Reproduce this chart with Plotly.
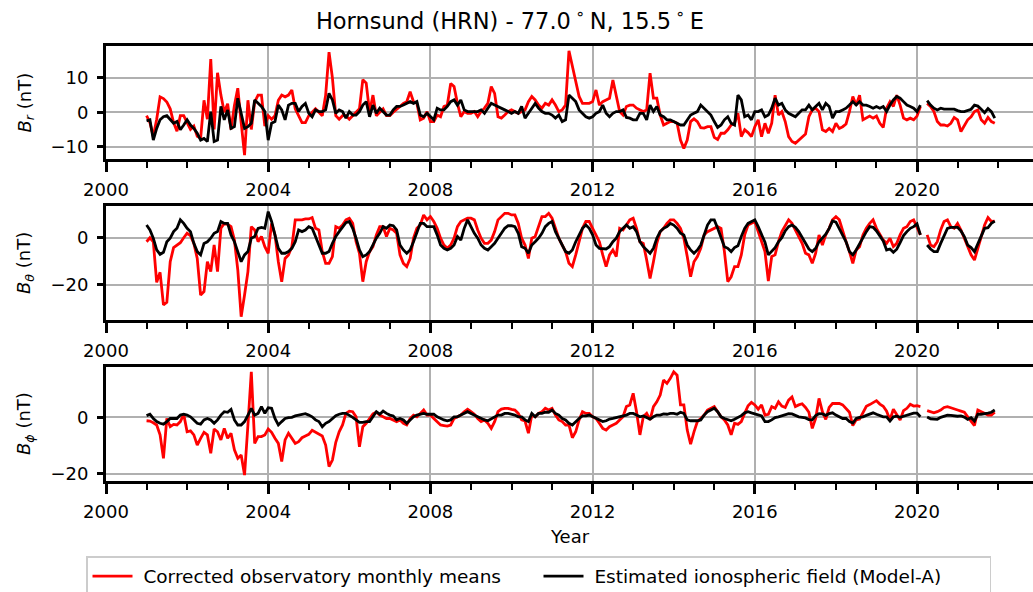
import plotly.graph_objects as go

# ---------------- data (monthly values, Jan 2001 .. Dec 2021; None = missing month) ----------------
START_YEAR = 2001

# B_r : corrected observatory monthly means (nT), one row per year
BR_OBS = [
    [-1, -3, -7, -2, 4.5, 4, 3, 1, -3, -5.5, -1, -1],
    [-3, -5, -4, -7, -7.5, 3.5, -2, 15.5, -5, 11.5, 5, 0],
    [2.5, -5, 2, 7, -3, -12.5, 3.5, -5, 3, 5, 5, -4],
    [-1, -2, -1, 3.5, 5, 4.5, 5, 6.5, 1, -1, -3, -3],
    [-1, 0, 1, 0, -1, 5, 17.5, 10, -1, -2, -1, -1],
    [-2, -1, 0, 1, 9.5, 8.5, 0, 5, -1, 0, 1, -1],
    [-1, 0, 1, 1.7, 2.6, 3.1, 6.0, 3.1, 2.6, -2.2, -1.7, 0.2],
    [-2.7, -2.7, -0.8, -1.3, 1.7, 2.1, 8.4, 7.5, 2.6, -1.3, 0.2, -0.3],
    [-0.3, 0.2, -1.3, 0.2, 1.2, 2.6, 7.5, 5.5, -1.3, -1.7, -0.8, 0.2],
    [0.7, 0.2, -0.3, 0.2, 0.7, 3.1, 4.6, 3.6, 2.1, 1.2, 2.6, 2.1],
    [3.6, 2.1, 0.2, 0.7, 2.1, 17.9, 13.3, 8.4, 4.6, 2.6, 2.6, 2.6],
    [3.1, 6.5, 2.1, 3.1, 3.6, 4.1, 9.4, 4.6, 0.2, -0.8, 1.7, 2.1],
    [2.1, 1.2, 0.7, 0.2, 0.7, 11.4, 4.1, 4.1, -0.8, -3.7, -3.2, -2.7],
    [-2.7, -3.2, -8.1, -10.5, -8.1, -2.7, -1.9, -2.7, -4.5, -4.6, -4.2, -4.2],
    [-7.3, -7.9, -6.1, -6.1, -5.1, -3.7, -3.2, -0.3, -7.1, -5.1, -5.9, -7.1],
    [-4.2, -2.2, -7.1, -3.2, -6.1, -3.2, 5.0, -0.8, 0.2, -2.7, -7.1, -8.5],
    [-9.0, -8.1, -7.1, -6.3, -1.3, 0.7, 1.2, 0.2, -5.1, -5.6, -4.7, -5.6],
    [-3.2, -4.7, -4.2, -3.4, 0.2, 4.6, 2.1, 5.0, -2.2, -1.7, -1.1, -1.7],
    [-1.1, -3.2, -4.4, 1.2, 3.1, 1.7, 5.0, 2.1, -1.7, -2.2, -1.7, -2.2],
    [-1.1, 1.7, None, 2.6, 1.7, 0.2, -2.7, -3.7, -3.7, -4.0, -3.2, -1.5],
    [-2.2, -5.6, -3.7, -2.2, -1.3, 0.2, 0.7, -2.2, -3.2, -1.5, -2.7, -3.2],
]

# B_r : estimated ionospheric field (Model-A)
BR_MOD = [
    [-2.5, -2.2, -8.1, -4.7, -2.2, -1.3, -1.0, -2.2, -3.2, -2.7, -5.1, -3.7],
    [-2.2, -3.7, -4.7, -6.1, -8.1, -7.6, -8.5, 0.2, -8.5, -8.1, 1.7, -2.2],
    [0.7, -4.7, -4.2, 4.1, -0.3, -4.7, -4.2, -3.2, 3.6, 2.6, 1.7, 0.2],
    [-8.1, -3.2, -2.7, 2.1, 0.7, -2.2, 2.1, 2.6, 2.6, 0.2, 1.7, 2.6],
    [-0.3, -1.3, 0.7, 0.2, 0.2, 0.7, 5.5, 3.6, -0.3, 0.7, 0.2, -1.7],
    [0.2, -0.8, -0.8, 0.2, 2.1, 3.1, -1.3, 2.1, -0.3, 1.2, 0.2, -0.8],
    [-0.8, 0.7, 1.7, 1.7, 2.1, 2.6, 3.1, 2.6, 3.1, -0.8, -1.3, -0.3],
    [-1.3, -2.2, 1.2, 0.7, 0.7, 1.7, 3.1, 3.6, 2.1, 3.6, 0.7, 0.2],
    [0.2, 0.2, 0.2, 0.7, -0.3, 1.2, 2.6, 2.1, 1.7, 1.2, 0.7, 0.2],
    [-0.3, 0.2, -0.3, 1.7, -1.7, -0.3, 1.2, 2.6, 1.2, 0.2, -0.3, -0.3],
    [-0.8, -1.7, -0.8, -2.7, -2.2, 5.0, 4.1, 3.1, 0.7, -0.3, -1.3, -1.7],
    [-1.3, -0.3, 0.2, 2.1, -0.3, -1.3, -0.3, 0.2, 0.2, 0.7, -1.5, -1.7],
    [-2.2, -2.2, -0.3, -0.3, -2.2, 2.1, 0.2, 1.7, -0.8, -1.3, -2.2, -2.2],
    [-2.7, -3.2, -3.7, -3.7, -2.2, -0.8, -0.3, 0.2, 2.1, 1.2, 0.2, -0.8],
    [-2.7, -4.4, -3.7, -2.2, -1.3, -3.2, -3.7, 5.0, 3.6, -1.3, -0.8, -2.2],
    [0.2, 0.2, 0.7, -1.3, -0.8, 1.2, 4.1, 2.1, 2.6, 0.7, -0.3, -0.8],
    [-1.3, -0.3, 0.7, 0.7, 2.1, 0.7, 1.7, 2.6, 0.7, 2.6, 1.7, -1.7],
    [0.2, 0.2, 0.7, 1.2, 2.1, 3.1, 2.1, 3.1, 2.1, 2.1, 1.7, 1.2],
    [1.7, 1.2, 1.7, 0.2, 2.1, 3.6, 4.6, 4.1, 3.1, 2.1, 1.7, 1.2],
    [0.2, 2.1, None, 3.4, 2.1, 1.2, 0.7, 1.2, 0.9, 0.9, 1.0, 0.9],
    [0.5, 0.2, 0.2, 0.5, 0.9, 2.1, 1.8, 0.9, -0.1, 1.1, 0.2, -1.7],
]

# B_theta : corrected observatory monthly means
BT_OBS = [
    [-1.6, 0.1, -1.6, -18.9, -14.6, -28.5, -27.4, -10.1, -4.1, -3.0, -2.0, 0.1],
    [2.0, 1.0, -2.3, -8.7, -24.3, -22.8, -10.1, -14.3, -3.0, -14.3, 4.1, 6.2],
    [5.8, 4.8, -0.9, -13.6, -33.5, -24.3, -14.3, 4.8, 3.4, -1.6, 0.6, -3.7],
    [-6.5, 6.2, 1.3, -10.1, -18.6, -8.7, -7.2, -3.7, 7.7, 7.7, 7.7, 8.1],
    [8.1, 8.7, 4.1, 3.4, -5.8, -10.8, -10.8, -7.9, 4.8, 4.1, 5.5, 7.7],
    [8.4, 6.2, -1.6, -6.5, -18.6, -10.1, -5.8, -3.7, 1.3, 4.8, 4.8, 0.6],
    [4.1, 3.4, 2.0, -7.2, -10.8, -12.2, -8.7, -0.1, 4.1, 5.5, 9.8, 7.7],
    [9.1, 7.0, 4.1, -0.1, -3.0, -4.4, -3.0, -0.1, 4.8, 7.0, 7.7, 8.4],
    [8.4, 7.7, 3.4, -0.1, -2.3, -2.3, -0.9, 2.7, 7.7, 9.1, 10.5, 10.5],
    [9.8, 9.8, 6.2, -0.1, -3.0, -8.7, -0.1, 0.6, 4.8, 9.1, 9.1, 10.5],
    [8.4, 4.1, -0.1, -3.0, -5.8, -10.8, -12.2, -7.2, -0.9, 4.1, 7.0, 7.0],
    [4.1, 1.3, -1.6, -7.2, -12.2, -7.2, -5.1, -7.9, 4.1, 3.4, 5.5, 7.7],
    [8.4, 4.1, -1.6, -2.3, -9.4, -17.2, -10.1, -2.3, 2.7, 4.1, 6.2, 7.7],
    [7.7, 6.2, 4.1, -0.1, -7.9, -16.5, -10.1, -7.9, -4.4, 1.3, 2.7, 3.4],
    [4.1, 4.8, 4.1, -5.8, -18.6, -16.5, -12.2, -12.2, -7.2, 1.3, 5.5, 6.2],
    [7.0, 2.7, -1.6, -5.8, -18.3, -7.9, -7.2, -1.6, 2.7, 5.5, 7.7, 6.2],
    [3.4, 0.6, -2.3, -6.5, -7.2, -10.8, -6.5, 1.3, -3.0, 1.3, 4.1, 7.7],
    [9.1, 7.7, 2.7, -1.6, -5.8, -10.8, -5.1, -3.7, 1.3, 4.1, 6.2, 7.7],
    [4.1, 1.3, -0.9, -2.3, -0.1, -3.7, -2.3, 1.3, 4.1, 4.8, 7.0, 7.7],
    [4.1, 1.3, None, 1.3, -3.0, -3.7, -1.6, 3.4, 7.0, 7.7, 4.8, 4.1],
    [6.2, 3.4, -0.1, -3.7, -7.2, -9.4, -4.4, 0.6, 5.5, 8.7, 7.0, 7.2],
]

# B_theta : estimated ionospheric field (Model-A)
BT_MOD = [
    [5.5, 3.4, -0.1, -5.1, -7.0, -6.1, -1.6, -0.1, 2.7, 4.1, 7.7, 6.2],
    [4.1, 2.7, -2.3, -5.8, -7.2, -2.3, -1.6, -0.1, 2.0, 2.7, 7.0, 6.2],
    [6.2, 1.3, -1.6, -5.8, -10.1, -7.2, -5.8, -0.1, 0.6, 4.1, 4.5, 4.1],
    [11.2, 7.0, 1.3, -4.4, -6.5, -6.5, -5.8, -4.4, -1.6, 3.4, 2.7, 3.4],
    [4.8, 4.1, 0.6, -3.0, -6.5, -6.5, -5.8, -2.3, 0.6, 2.7, 4.8, 6.5],
    [7.0, 4.1, -0.1, -5.1, -7.9, -7.2, -5.8, -3.0, -0.1, 2.0, 4.8, 4.1],
    [5.5, 5.2, 3.4, -3.0, -5.1, -6.5, -5.1, -1.6, 2.7, 6.2, 6.2, 4.8],
    [4.8, 4.8, 1.3, -3.0, -4.4, -5.1, -4.4, -3.0, 0.6, -0.9, 4.1, 7.7],
    [4.8, 2.0, -0.1, -3.0, -4.4, -5.1, -3.7, -2.3, -0.1, 2.0, 4.1, 5.2],
    [5.2, 4.8, 2.0, -3.7, -4.4, -6.5, -3.0, -1.6, -0.1, 2.0, 4.8, 6.2],
    [7.0, 2.7, -0.1, -3.0, -5.8, -6.5, -5.1, -1.6, 1.3, 4.1, 5.5, 4.1],
    [1.3, -3.0, -4.4, -4.4, -4.7, -3.7, -1.6, -0.1, 2.7, 4.1, 5.5, 4.1],
    [4.8, 2.7, -1.6, -3.7, -5.1, -6.5, -4.4, -0.1, 2.7, 4.1, 4.8, 6.2],
    [5.5, 4.1, 2.0, 1.3, -3.0, -5.1, -6.5, -5.1, -3.0, 1.3, 5.5, 7.7],
    [7.7, 4.1, -0.1, -3.7, -4.4, -5.8, -4.1, -3.3, 0.6, 4.1, 6.2, 7.0],
    [7.7, 4.8, 1.3, -1.8, -7.2, -5.8, -4.1, -1.6, 0.1, 3.0, 4.8, 5.5],
    [4.5, 2.7, 0.1, -2.3, -4.7, -5.8, -4.4, -1.6, 0.1, 1.6, 4.1, 7.2],
    [6.7, 4.1, 1.3, -1.6, -5.8, -7.2, -5.1, -2.3, 0.6, 2.7, 4.8, 4.5],
    [3.0, 0.6, -1.3, -5.1, -4.7, -6.1, -4.8, -2.0, 1.0, 2.7, 4.1, 4.8],
    [6.0, 1.3, None, -3.0, -4.7, -5.8, -5.8, -2.3, 0.6, 4.1, 4.5, 4.5],
    [4.5, 3.0, 0.6, -3.0, -4.1, -5.8, -2.3, 1.0, 4.1, 4.4, 6.2, 7.2],
]

# B_phi : corrected observatory monthly means
BP_OBS = [
    [-1.2, -1.3, -1.9, -2.7, -6.2, -14.5, -0.4, -3.3, -2.5, -2.7, -1.5, 1.1],
    [-5.1, -4.8, -6.2, -9.8, -7.4, -5.3, -6.2, -12.7, -4.1, -5.1, -8.0, -3.9],
    [-7.4, -5.6, -11.5, -14.5, -13.3, -20.4, -2.7, 16.1, -9.2, -6.8, -6.8, -6.2],
    [-4.1, -5.3, -7.4, -9.2, -15.6, -8.0, -5.6, -7.6, -9.2, -8.6, -7.2, -6.6],
    [-6.0, -4.6, -5.3, -6.2, -6.6, -9.8, -17.4, -15.1, -8.8, -5.1, -2.7, 1.4],
    [2.2, 2.0, 0.2, -10.4, -3.3, -2.1, -0.4, 1.2, 1.8, 0.8, 0.2, -0.4],
    [-0.4, -0.9, -1.5, -0.9, -2.1, -2.7, -0.4, 0.8, 0.2, 1.4, 2.6, 0.8],
    [0.8, -0.4, -1.5, -2.7, -2.9, -3.1, -2.7, -0.4, 0.2, 0.8, 2.0, 2.9],
    [2.0, 1.1, -0.4, -1.5, -0.9, -2.1, -3.9, -1.5, 2.0, 2.9, 3.2, 3.2],
    [2.8, 2.6, 1.4, -0.9, -1.3, -5.6, 0.8, 0.2, 1.4, 2.0, 3.2, 2.6],
    [3.2, 0.8, -0.9, -1.5, -2.7, -2.7, -7.2, -5.1, -0.9, 2.0, 1.4, 1.4],
    [0.2, -0.4, -2.1, -3.9, -4.5, -3.3, -2.7, -2.1, -0.9, 0.2, 3.8, 4.4],
    [8.5, 2.0, -6.2, 0.2, 1.4, -0.9, 3.8, 5.5, 7.9, 13.2, 12.0, 13.8],
    [16.1, 14.9, 4.4, 4.4, -4.5, -9.5, -5.1, -1.5, -0.4, 0.8, 2.6, 3.2],
    [3.8, 2.0, 0.2, -0.9, -2.7, -6.2, -2.1, -2.5, -1.5, 1.4, 4.1, 5.3],
    [4.4, 2.9, 4.4, 0.8, 1.1, 3.8, 3.2, 5.5, 4.0, 3.5, 6.1, 7.2],
    [3.8, 4.4, 4.8, 3.5, 1.8, -3.9, -0.4, 6.7, 2.0, -0.7, 3.5, 4.9],
    [4.9, 4.9, 4.4, 3.2, 1.8, -2.9, -0.9, -0.6, 1.6, 3.9, 4.5, 5.2],
    [5.9, 4.7, 3.9, 2.2, -0.9, 2.9, 1.1, -0.9, 2.4, 3.2, 4.6, 4.0],
    [4.1, 3.8, None, 2.4, 1.9, 1.6, 2.0, 2.6, 3.5, 3.8, 3.4, 2.9],
    [2.6, 2.2, 1.8, 0.2, -1.2, -2.9, 2.6, 2.0, 1.4, 0.8, 0.8, 1.8],
]

# B_phi : estimated ionospheric field (Model-A)
BP_MOD = [
    [0.6, 1.1, -0.4, -1.5, -2.1, -2.4, -1.5, -0.4, -0.4, -0.4, 0.8, 1.1],
    [0.8, 0.2, -0.9, -2.1, -2.4, -0.9, -0.4, -0.9, -2.1, -0.9, 0.8, 2.0],
    [1.8, 2.8, -0.9, -2.7, -2.7, -1.5, 0.8, 3.2, 0.8, 1.4, 3.8, 1.4],
    [3.4, 3.2, -0.4, -2.7, -1.5, -0.4, -0.1, 0.0, 0.5, 0.8, 1.1, 1.3],
    [0.8, 0.2, -0.9, -1.5, -3.3, -2.1, -1.5, -0.4, 0.6, 1.1, 1.4, 1.4],
    [0.8, 0.0, -0.9, -1.8, -1.8, -1.5, -1.5, 0.2, 2.0, 1.1, 2.2, 1.4],
    [0.8, 0.5, -0.9, -0.4, -0.9, -2.1, -0.9, 0.2, 0.8, 1.1, 1.4, 1.1],
    [1.1, 1.1, 0.2, -0.4, -0.9, -1.2, -0.9, 0.2, 0.2, 0.8, 1.4, 2.0],
    [1.4, 0.8, 0.2, -0.4, -0.9, -1.2, -0.6, 0.2, 0.8, 0.8, 1.4, 1.4],
    [1.1, 0.8, 0.2, 0.2, -0.9, -1.5, 1.4, 0.2, 1.4, 1.4, 1.8, 1.8],
    [2.6, 1.4, 0.8, -0.4, -0.9, -2.1, -2.7, -1.5, -0.4, 0.5, 0.5, 0.8],
    [0.2, -0.4, -0.9, -1.5, -1.2, -0.6, -0.4, -0.1, 0.2, 0.5, 0.8, 1.4],
    [1.4, 0.8, 0.2, 0.5, 0.0, -0.6, 0.2, 0.8, 0.8, 1.2, 1.1, 1.4],
    [1.4, 1.1, 1.8, 1.4, -0.9, -1.2, -1.2, -1.2, -0.9, 0.8, 2.0, 2.6],
    [3.2, 2.0, 0.2, -0.4, -0.9, -1.2, -0.7, -0.1, 0.6, 1.6, 2.0, 1.6],
    [1.2, 0.8, 0.5, -1.5, -1.5, -0.9, -0.1, 0.2, 0.6, 0.9, 1.3, 1.2],
    [0.7, 0.2, 0.0, -0.2, -0.8, -0.9, 0.6, 1.3, 1.2, 0.7, 1.3, 1.6],
    [0.8, 0.2, -0.4, -0.4, -1.5, -2.0, -0.4, 0.0, 0.2, 0.7, 1.2, 1.6],
    [1.1, 0.7, 0.2, 0.2, -1.3, 0.2, 0.4, 0.0, 0.4, 0.7, 1.2, 1.5],
    [1.5, 0.2, None, 0.1, -0.5, -0.6, -0.7, 0.0, 0.4, 0.8, 0.7, 0.5],
    [0.4, 0.5, 0.1, -0.7, -0.1, -1.3, 1.1, 1.1, 1.2, 1.5, 1.8, 2.6],
]

PANEL_LABELS = ["<i>B</i><sub><i>r</i></sub> (nT)",
                "<i>B</i><sub><i>θ</i></sub> (nT)",
                "<i>B</i><sub><i>ϕ</i></sub> (nT)"]
PANEL_YTICKS = [[-10, 0, 10], [-20, 0], [-20, 0]]
PANEL_YRANGES = [[-13.6, 19.3], [-34.9, 13.6], [-22.5, 17.8]]
XTICKS = [2000, 2004, 2008, 2012, 2016, 2020]
SERIES_NAMES = [" Corrected observatory monthly means",
                " Estimated ionospheric field (Model-A)"]
TITLE = "Hornsund (HRN) - 77.0\u2009<sup>∘</sup>\u2009N, 15.5\u2009<sup>∘</sup>\u2009E"


def flatten(rows):
    return [v for row in rows for v in row]


# ---------------- figure ----------------
W, H = 1033, 592
FONT = "DejaVu Sans"
FS = 18
GRID = "#b0b0b0"

# panel pixel extents (top, bottom)
panel_px = [(46, 159), (206, 320), (367, 481)]
domains = [[1 - b / H, 1 - t / H] for t, b in panel_px]

obs_sets = [BR_OBS, BT_OBS, BP_OBS]
mod_sets = [BR_MOD, BT_MOD, BP_MOD]

fig = go.Figure()
for i in range(3):
    obs = flatten(obs_sets[i])
    mod = flatten(mod_sets[i])
    t = [START_YEAR + k / 12 for k in range(len(obs))]
    sfx = "" if i == 0 else str(i + 1)
    fig.add_trace(go.Scatter(x=t, y=obs, mode="lines", name=SERIES_NAMES[0],
                             line=dict(color="#ff0000", width=2.8),
                             xaxis="x" + sfx, yaxis="y" + sfx,
                             showlegend=(i == 0), connectgaps=False))
    fig.add_trace(go.Scatter(x=t, y=mod, mode="lines", name=SERIES_NAMES[1],
                             line=dict(color="#000000", width=2.8),
                             xaxis="x" + sfx, yaxis="y" + sfx,
                             showlegend=(i == 0), connectgaps=False))

layout = dict(
    width=W, height=H,
    margin=dict(l=106, r=0, t=0, b=0, autoexpand=False),
    paper_bgcolor="white", plot_bgcolor="white",
    font=dict(family=FONT, size=FS, color="black"),
    showlegend=True,
    legend=dict(orientation="h", xref="container", yref="container",
                x=86 / W, xanchor="left",
                y=1 - 556 / H, yanchor="top",
                bordercolor="#cccccc", borderwidth=1.5, bgcolor="white",
                font=dict(size=18.5, family=FONT),
                entrywidth=396, entrywidthmode="pixels",
                itemwidth=40, tracegroupgap=0),
)

annotations = []
for i in range(3):
    sfx = "" if i == 0 else str(i + 1)
    layout["xaxis" + sfx] = dict(
        domain=[0, 1], anchor="y" + sfx, range=[2000, 2022.86],
        tickmode="array", tickvals=XTICKS, ticktext=[str(v) for v in XTICKS],
        ticks="outside", ticklen=10, tickwidth=2.5, tickcolor="black",
        ticklabelstandoff=2,
        showline=True, linewidth=3, linecolor="black", mirror=True,
        showgrid=True, gridcolor=GRID, gridwidth=2, zeroline=False,
        tickfont=dict(size=FS, family=FONT, color="black"),
        minor=dict(tickmode="linear", tick0=2000, dtick=1, ticks="outside",
                   ticklen=6, tickwidth=2, tickcolor="black", showgrid=False),
    )
    yt = PANEL_YTICKS[i]
    layout["yaxis" + sfx] = dict(
        domain=domains[i], anchor="x" + sfx, range=PANEL_YRANGES[i],
        tickmode="array", tickvals=yt,
        ticktext=[str(v).replace("-", "\u2212") for v in yt],
        ticks="outside", ticklen=6, tickwidth=2.5, tickcolor="black",
        ticklabelstandoff=5,
        showline=True, linewidth=3, linecolor="black", mirror=False,
        showgrid=True, gridcolor=GRID, gridwidth=2, zeroline=False,
        tickfont=dict(size=FS, family=FONT, color="black"),
    )
    top, bot = panel_px[i]
    annotations.append(dict(
        text=PANEL_LABELS[i], textangle=-90, showarrow=False,
        xref="paper", yref="paper", x=(25 - 106) / (W - 106), xanchor="center",
        y=1 - (top + bot) / 2 / H, yanchor="middle",
        font=dict(size=FS, family=FONT, color="black")))

annotations.append(dict(text="Year", showarrow=False, xref="paper", yref="paper",
                        x=0.5, xanchor="center", y=1 - 536 / H, yanchor="middle",
                        font=dict(size=FS, family=FONT, color="black")))
layout["annotations"] = annotations
layout["title"] = dict(text=TITLE, x=510 / W, xref="container", xanchor="center",
                       y=1 - 21 / H, yref="container", yanchor="middle",
                       font=dict(size=22.5, family=FONT, color="black"))

fig.update_layout(**layout)
fig.write_html("out.html")
